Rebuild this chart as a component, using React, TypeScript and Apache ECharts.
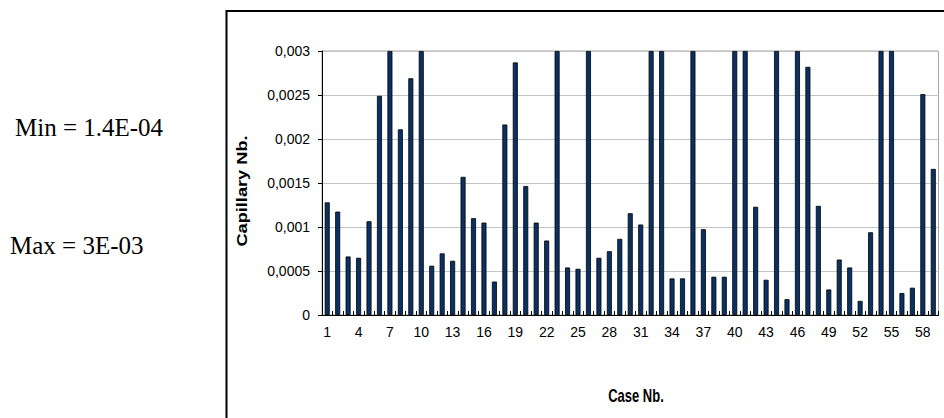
import React, { useEffect, useRef } from "react";
import * as echarts from "echarts";

const categories: string[] = Array.from({ length: 59 }, (_, i) => String(i + 1));

const capillaryValues: number[] = [
  0.00128, 0.001175, 0.000665, 0.00065, 0.001065, 0.00249, 0.003, 0.00211, 0.00269, 0.003,
  0.00056, 0.0007, 0.000616, 0.00157, 0.0011, 0.00105, 0.00038, 0.002165, 0.00287, 0.001466,
  0.00105, 0.000846, 0.003, 0.00054, 0.000525, 0.003, 0.00065, 0.000725, 0.000865, 0.001156,
  0.001028, 0.003, 0.003, 0.000416, 0.000416, 0.003, 0.000975, 0.000435, 0.000435, 0.003,
  0.003, 0.00123, 0.0004, 0.003, 0.00018, 0.003, 0.00282, 0.00124, 0.00029, 0.00063,
  0.00054, 0.00016, 0.00094, 0.003, 0.003, 0.00025, 0.00031, 0.00251, 0.00166,
];

const yTickLabels: string[] = ["0", "0,0005", "0,001", "0,0015", "0,002", "0,0025", "0,003"];

const minText = "Min = 1.4E-04";
const maxText = "Max = 3E-03";
const yName = "Capillary Nb.";
const xName = "Case Nb.";

export default function App() {
  const ref = useRef<HTMLDivElement>(null);

  useEffect(() => {
    if (!ref.current) return;
    const chart = echarts.init(ref.current, null, { renderer: "svg" });
    const labelFont = '"Liberation Sans", Arial, sans-serif';
    chart.setOption({
      animation: false,
      backgroundColor: "#ffffff",
      grid: {
        left: 322,
        top: 51,
        right: 5.5,
        bottom: 103,
        show: true,
        borderColor: "#a6a6a6",
        borderWidth: 1,
        backgroundColor: "transparent",
      },
      xAxis: {
        type: "category",
        data: categories,
        boundaryGap: true,
        axisLine: { show: true, lineStyle: { color: "#000", width: 1 } },
        axisTick: {
          show: true,
          inside: true,
          interval: 0,
          length: 4,
          lineStyle: { color: "#000", width: 1 },
        },
        axisLabel: {
          interval: 2,
          margin: 10,
          color: "#000",
          fontFamily: labelFont,
          fontSize: 14,
        },
        splitLine: { show: false },
      },
      yAxis: {
        type: "value",
        min: 0,
        max: 0.003,
        interval: 0.0005,
        axisLine: { show: true, lineStyle: { color: "#000", width: 1 } },
        axisTick: { show: true, inside: false, length: 4, lineStyle: { color: "#000" } },
        axisLabel: {
          margin: 12,
          color: "#000",
          fontFamily: labelFont,
          fontSize: 14,
          formatter: (_v: number, i: number) => yTickLabels[i] ?? "",
        },
        splitLine: { show: true, lineStyle: { color: "#c4c4c4", width: 1 } },
      },
      series: [
        {
          type: "bar",
          data: capillaryValues,
          barWidth: 5,
          itemStyle: { color: "#0a3163", borderColor: "#000", borderWidth: 0.8 },
        },
      ],
      graphic: [
        {
          type: "rect",
          shape: { x: 226.5, y: 11, width: 900, height: 600 },
          style: { fill: "none", stroke: "#000", lineWidth: 2 },
          silent: true,
        },
        {
          type: "text",
          x: 15,
          y: 127,
          style: {
            text: minText,
            font: '25px "Liberation Serif", "Times New Roman", serif',
            fill: "#000",
            align: "left",
            verticalAlign: "middle",
          },
        },
        {
          type: "text",
          x: 10,
          y: 245,
          style: {
            text: maxText,
            font: '25px "Liberation Serif", "Times New Roman", serif',
            fill: "#000",
            align: "left",
            verticalAlign: "middle",
          },
        },
        {
          type: "text",
          x: 242,
          y: 191,
          rotation: Math.PI / 2,
          scaleX: 1.3,
          style: {
            text: yName,
            font: 'bold 14px "Liberation Sans", Arial, sans-serif',
            fill: "#000",
            align: "center",
            verticalAlign: "middle",
          },
        },
        {
          type: "text",
          x: 636,
          y: 396,
          scaleY: 1.4,
          style: {
            text: xName,
            font: 'bold 13px "Liberation Sans", Arial, sans-serif',
            fill: "#000",
            align: "center",
            verticalAlign: "middle",
          },
        },
      ],
    });
    return () => chart.dispose();
  }, []);

  return (
    <div
      ref={ref}
      style={{ position: "fixed", left: 0, top: 0, width: 944, height: 418 }}
    />
  );
}
